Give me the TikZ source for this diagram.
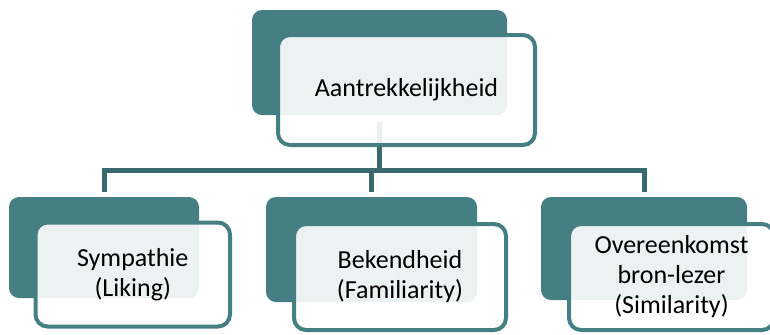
\documentclass[tikz,border=0pt]{standalone}
\usepackage{fontspec}
\setmainfont{Carlito}
\usepackage{xcolor}
\definecolor{boxteal}{HTML}{457E83}
\definecolor{lineteal}{HTML}{386A6F}

\begin{document}
\begin{tikzpicture}[x=0.5pt, y=-0.5pt,
    back/.style={fill=boxteal, rounded corners=5pt,
        inner sep=0pt, outer sep=0pt},
    front/.style={draw=boxteal, line width=2pt, fill=white,
        fill opacity=0.9, text opacity=1, rounded corners=6pt,
        inner sep=0pt, outer sep=0pt, align=center,
        font=\fontsize{13}{15}\selectfont},
    link/.style={draw=lineteal, line width=2.5pt}]
    \useasboundingbox (0,0) rectangle (770,334);
    \clip (0,0) rectangle (770,334);

    \node[back, minimum width=127.5pt, minimum height=52.5pt] (topback) at (379.5,62.5) {};
    \node[back, minimum width=95pt, minimum height=50.5pt] (leftback) at (104,247.5) {};
    \node[back, minimum width=105.5pt, minimum height=52.5pt] (midback) at (371.5,249.5) {};
    \node[back, minimum width=103pt, minimum height=51.5pt] (rightback) at (644,248.5) {};

    \coordinate (bus) at (379.5,170);
    \draw[link, shorten <=3.5pt] (topback.south) -- (bus);
    \draw[link, shorten <=2.5pt, shorten >=2.5pt] (leftback.north) |- (bus) -| (rightback.north);
    \draw[link, shorten <=2.5pt] (midback.north) -- (midback.north |- bus);

    \node[front, minimum width=128.5pt, minimum height=55pt] (top) at (406.5,90) {Aantrekkelijkheid};
    \node[front, minimum width=97.25pt, minimum height=52pt] (liking) at (132.75,274.5) {Sympathie\\(Liking)};
    \node[front, minimum width=106pt, minimum height=53pt] (familiar) at (400,277) {Bekendheid\\(Familiarity)};
    \node[front, minimum width=102.5pt, minimum height=53pt] (similar) at (671.5,277) {Overeenkomst\\bron-lezer\\(Similarity)};

\end{tikzpicture}
\end{document}
